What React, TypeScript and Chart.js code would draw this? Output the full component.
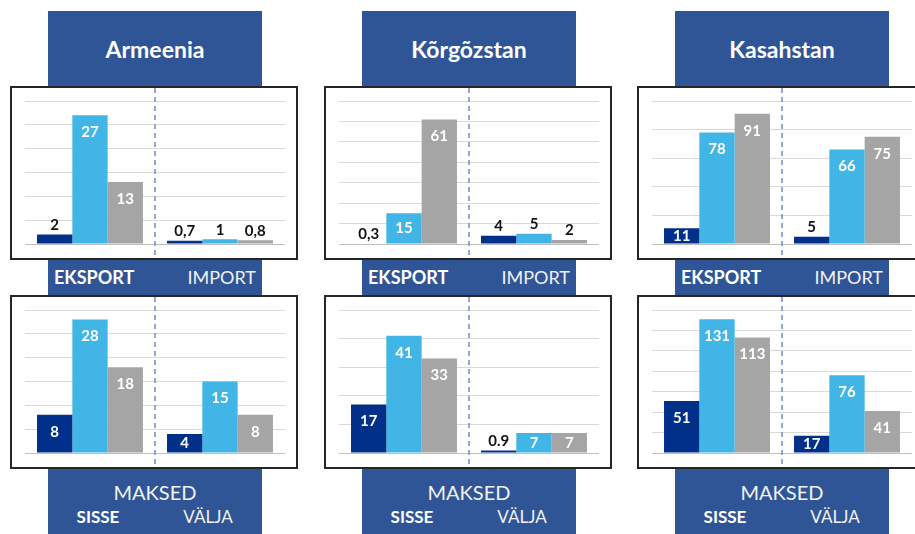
import React, { useEffect, useRef } from "react";
import { Chart, registerables } from "chart.js";

Chart.register(...registerables);

// ---------- data ----------
const countries = ["Armeenia", "Kõrgõzstan", "Kasahstan"];
const tradeCategories = ["EKSPORT", "IMPORT"];
const paymentCategories = ["SISSE", "VÄLJA"];
const paymentTitle = "MAKSED";
const seriesNames = ["Seeria 1", "Seeria 2", "Seeria 3"];

// trade (eksport, import) per series
const armeeniaTradeDark = [2, 0.7];
const armeeniaTradeLight = [27, 1];
const armeeniaTradeGray = [13, 0.8];

const korgozstanTradeDark = [0.3, 4];
const korgozstanTradeLight = [15, 5];
const korgozstanTradeGray = [61, 2];

const kasahstanTradeDark = [11, 5];
const kasahstanTradeLight = [78, 66];
const kasahstanTradeGray = [91, 75];

// payments (sisse, välja) per series
const armeeniaPayDark = [8, 4];
const armeeniaPayLight = [28, 15];
const armeeniaPayGray = [18, 8];

const korgozstanPayDark = [17, 0.9];
const korgozstanPayLight = [41, 7];
const korgozstanPayGray = [33, 7];

const kasahstanPayDark = [51, 17];
const kasahstanPayLight = [131, 76];
const kasahstanPayGray = [113, 41];

// axis ranges
const tradeMax = [30, 70, 100];
const tradeStep = [5, 10, 20];
const payMax = [30, 50, 140];
const payStep = [5, 10, 20];

// decimal marks used in value labels
const tradeDecimal = [",", ",", ","];
const payDecimal = [",", ".", ","];

// ---------- styles ----------
const COLORS = ["#00308A", "#41B6E6", "#A5A5A5"];
const HEADER_BLUE = "#2F5597";
const FONT = "Lato, 'Open Sans', sans-serif";
const COL_OFFSETS = [0, 314, 627];

const overlayPlugin = {
  id: "overlay",
  afterDatasetsDraw(chart: any, _args: any, opts: any) {
    const ctx = chart.ctx;
    const xs = chart.scales.x;
    const mid = (xs.getPixelForValue(0) + xs.getPixelForValue(1)) / 2;
    ctx.save();
    ctx.strokeStyle = "#6F8DCB";
    ctx.lineWidth = 1.5;
    ctx.setLineDash([5, 4]);
    ctx.beginPath();
    ctx.moveTo(mid, 0);
    ctx.lineTo(mid, chart.height);
    ctx.stroke();
    ctx.setLineDash([]);
    ctx.font = "bold 15px Lato, sans-serif";
    ctx.textAlign = "center";
    chart.data.datasets.forEach((ds: any, di: number) => {
      const meta = chart.getDatasetMeta(di);
      meta.data.forEach((bar: any, i: number) => {
        const { x, y, base } = bar.getProps(["x", "y", "base"], true);
        const h = base - y;
        const text = String(ds.data[i]).replace(".", opts.decimal || ",");
        if (h >= 13) {
          ctx.fillStyle = "#FFFFFF";
          ctx.textBaseline = "middle";
          ctx.fillText(text, x, Math.min(y + 17, (y + base) / 2));
        } else {
          ctx.fillStyle = "#111111";
          ctx.textBaseline = "bottom";
          ctx.fillText(text, x, y - 2);
        }
      });
    });
    ctx.restore();
  },
};

type PanelProps = {
  left: number;
  top: number;
  labels: string[];
  series: number[][];
  max: number;
  step: number;
  decimal: string;
};

function Panel({ left, top, labels, series, max, step, decimal }: PanelProps) {
  const ref = useRef<HTMLCanvasElement | null>(null);
  useEffect(() => {
    if (!ref.current) return;
    const chart = new Chart(ref.current, {
      type: "bar",
      data: {
        labels,
        datasets: series.map((d, i) => ({
          label: seriesNames[i],
          data: d,
          backgroundColor: COLORS[i],
          borderWidth: 0,
          categoryPercentage: 0.815,
          barPercentage: 1.0,
        })),
      },
      options: {
        animation: false,
        responsive: false,
        layout: { padding: { left: 13, right: 11, top: 13, bottom: 14 } },
        plugins: {
          legend: { display: false },
          tooltip: { enabled: false },
          overlay: { decimal },
        } as any,
        scales: {
          x: { display: false },
          y: {
            min: 0,
            max,
            ticks: { display: false, stepSize: step },
            border: { display: false },
            grid: {
              drawTicks: false,
              lineWidth: 1,
              color: (c: any) => (c.tick && c.tick.value === 0 ? "#BFBFBF" : "#D9D9D9"),
            },
          },
        },
      },
      plugins: [overlayPlugin],
    });
    return () => chart.destroy();
  }, []);
  return (
    <div
      style={{
        position: "absolute",
        left,
        top,
        width: 288,
        height: 174,
        boxSizing: "border-box",
        border: "2px solid #262626",
        background: "#fff",
      }}
    >
      <canvas ref={ref} width={284} height={170} style={{ display: "block" }} />
    </div>
  );
}

const tradeData = [
  [armeeniaTradeDark, armeeniaTradeLight, armeeniaTradeGray],
  [korgozstanTradeDark, korgozstanTradeLight, korgozstanTradeGray],
  [kasahstanTradeDark, kasahstanTradeLight, kasahstanTradeGray],
];
const payData = [
  [armeeniaPayDark, armeeniaPayLight, armeeniaPayGray],
  [korgozstanPayDark, korgozstanPayLight, korgozstanPayGray],
  [kasahstanPayDark, kasahstanPayLight, kasahstanPayGray],
];

function Column({ idx }: { idx: number }) {
  const dx = COL_OFFSETS[idx];
  const bx = 48 + dx;
  return (
    <>
      <div
        style={{
          position: "absolute",
          left: bx,
          top: 11,
          width: 214,
          height: 286,
          background: HEADER_BLUE,
        }}
      />
      <div
        style={{
          position: "absolute",
          left: bx,
          top: 11,
          width: 214,
          height: 75,
          display: "flex",
          alignItems: "center",
          justifyContent: "center",
          color: "#fff",
          fontWeight: 700,
          fontSize: 23,
        }}
      >
        {countries[idx]}
      </div>
      <Panel
        left={10 + dx}
        top={86}
        labels={tradeCategories}
        series={tradeData[idx]}
        max={tradeMax[idx]}
        step={tradeStep[idx]}
        decimal={tradeDecimal[idx]}
      />
      <div
        style={{
          position: "absolute",
          left: bx + 6,
          top: 260,
          height: 34,
          display: "flex",
          alignItems: "center",
          color: "#fff",
          fontWeight: 700,
          fontSize: 18,
        }}
      >
        {tradeCategories[0]}
      </div>
      <div
        style={{
          position: "absolute",
          left: bx,
          width: 208,
          top: 260,
          height: 34,
          display: "flex",
          alignItems: "center",
          justifyContent: "flex-end",
          color: "#F2F2F2",
          fontWeight: 400,
          fontSize: 18,
        }}
      >
        {tradeCategories[1]}
      </div>
      <Panel
        left={10 + dx}
        top={295}
        labels={paymentCategories}
        series={payData[idx]}
        max={payMax[idx]}
        step={payStep[idx]}
        decimal={payDecimal[idx]}
      />
      <div
        style={{
          position: "absolute",
          left: bx,
          top: 469,
          width: 214,
          height: 70,
          background: HEADER_BLUE,
        }}
      />
      <div
        style={{
          position: "absolute",
          left: bx,
          width: 214,
          top: 480,
          height: 24,
          lineHeight: "24px",
          textAlign: "center",
          color: "#F2F2F2",
          fontSize: 20,
        }}
      >
        {paymentTitle}
      </div>
      <div
        style={{
          position: "absolute",
          left: bx,
          width: 100,
          top: 506,
          height: 22,
          lineHeight: "22px",
          textAlign: "center",
          color: "#fff",
          fontWeight: 700,
          fontSize: 17,
        }}
      >
        {paymentCategories[0]}
      </div>
      <div
        style={{
          position: "absolute",
          left: bx + 110,
          width: 100,
          top: 506,
          height: 22,
          lineHeight: "22px",
          textAlign: "center",
          color: "#F2F2F2",
          fontSize: 17,
        }}
      >
        {paymentCategories[1]}
      </div>
    </>
  );
}

export default function App() {
  return (
    <div
      style={{
        position: "fixed",
        left: 0,
        top: 0,
        width: 915,
        height: 534,
        overflow: "hidden",
        background: "#fff",
        fontFamily: FONT,
      }}
    >
      {[0, 1, 2].map((i) => (
        <Column key={i} idx={i} />
      ))}
    </div>
  );
}
